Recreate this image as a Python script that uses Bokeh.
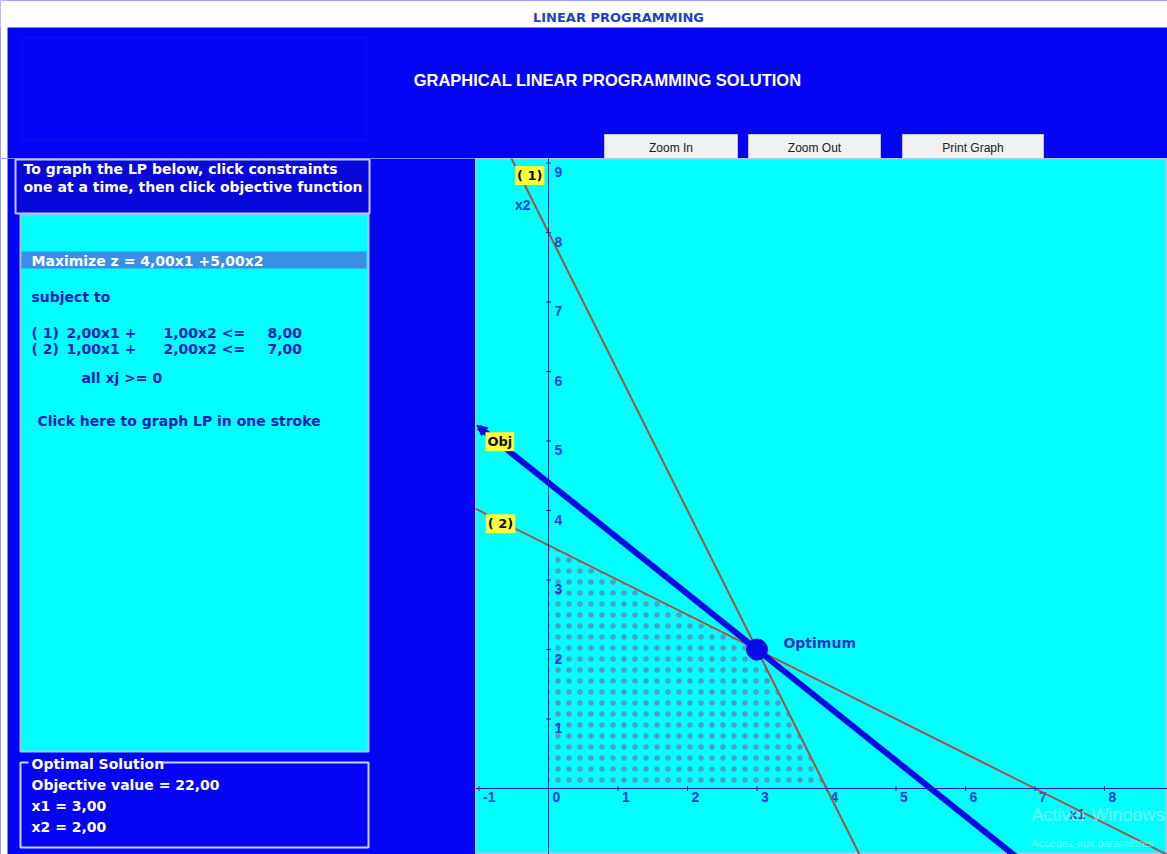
import numpy as np
from bokeh.plotting import figure
from bokeh.layouts import column, row
from bokeh.models import Range1d, Span, Label, Arrow, NormalHead
from bokeh.core.properties import value
from bokeh.embed import file_html
from bokeh.resources import INLINE

# ---------------- data ----------------
obj_coef = [4.0, 5.0]                 # maximize z = 4 x1 + 5 x2
con_a1 = [2.0, 1.0]                   # coefficient of x1 in each constraint
con_a2 = [1.0, 2.0]                   # coefficient of x2 in each constraint
con_rhs = [8.0, 7.0]                  # right-hand sides
con_names = ["( 1)", "( 2)"]
opt_x1 = [3.0]
opt_x2 = [2.0]
opt_value = 22.0
feas_x1 = [0.0, 4.0, 3.0, 0.0]        # feasible region corners
feas_x2 = [0.0, 0.0, 2.0, 3.5]
x_ticks = [-1, 0, 1, 2, 3, 4, 5, 6, 7, 8]
y_ticks = [1, 2, 3, 4, 5, 6, 7, 8, 9]

# ---------------- styles ----------------
FONT_NAME = "DejaVu Sans"
FONT = value(FONT_NAME)
FONT2 = value("Liberation Sans")
WIN_BLUE = "#0505f5"
CYAN = "#00ffff"
PANEL_TXT = "#1020b0"
TICK_TXT = "#1e3cd0"
BROWN = "#a8503c"
OBJ_BLUE = "#0a0ae6"


def fmt(v):
    return f"{v:.2f}".replace(".", ",")


def canvas(w, h, x0, x1, y0, y1, bg):
    p = figure(width=w, height=h, x_range=Range1d(x0, x1), y_range=Range1d(y0, y1),
               output_backend="svg", toolbar_location=None, min_border=0,
               x_axis_type=None, y_axis_type=None)
    p.grid.visible = False
    p.outline_line_color = None
    p.background_fill_color = bg
    p.border_fill_color = bg
    return p


def txt(p, x, y, s, color, size="14px", style="bold", align="left", font=FONT):
    p.text(x=[x], y=[y], text=[s], text_color=color, text_font=font,
           text_font_size=size, text_font_style=style, text_align=align,
           text_baseline="middle")


# ---------------- header (screen pixel frame) ----------------
hdr = canvas(1167, 158, 0, 1167, 158, 0, WIN_BLUE)
hdr.quad(left=[0], right=[1167], top=[0], bottom=[27], fill_color="white", line_color=None)
hdr.quad(left=[0], right=[7], top=[0], bottom=[158], fill_color="white", line_color=None)
txt(hdr, 618, 17, "LINEAR PROGRAMMING", "#1f3fc8", size="13px", align="center")
hdr.quad(left=[22], right=[366], top=[37], bottom=[140], fill_color=None,
         line_color="#1212e6", line_width=1)
txt(hdr, 607, 79, "GRAPHICAL LINEAR PROGRAMMING SOLUTION", "white", size="16.5px",
    align="center", font=FONT2)
btn_left = [604, 748, 902]
btn_right = [737, 880, 1043]
btn_text = ["Zoom In", "Zoom Out", "Print Graph"]
hdr.quad(left=btn_left, right=btn_right, top=[134] * 3, bottom=[158] * 3,
         fill_color="#f0f0f0", line_color="#c8c8c8", line_width=1)
for l, r, t in zip(btn_left, btn_right, btn_text):
    txt(hdr, (l + r) / 2, 147, t, "#202020", size="12px", style="normal", align="center",
        font=FONT2)

# ---------------- left panel ----------------
lp = canvas(475, 696, 0, 475, 854, 158, WIN_BLUE)
lp.quad(left=[0], right=[7], top=[158], bottom=[854], fill_color="white", line_color=None)
lp.quad(left=[15], right=[369], top=[159], bottom=[213], fill_color="#0808d8",
        line_color="#c8c8ff", line_width=2)
txt(lp, 23, 168, "To graph the LP below, click constraints", "white")
txt(lp, 23, 186, "one at a time, then click objective function", "white")
lp.quad(left=[20], right=[368], top=[214], bottom=[751], fill_color=CYAN,
        line_color="#9fc8ff", line_width=2)
lp.quad(left=[21], right=[366], top=[251], bottom=[268], fill_color="#3a8ee6", line_color=None)
txt(lp, 31, 260, f"Maximize z = {fmt(obj_coef[0])}x1 +{fmt(obj_coef[1])}x2", "white")
txt(lp, 31, 296, "subject to", PANEL_TXT)
for i, yy in enumerate([332, 348]):
    txt(lp, 31, yy, con_names[i], PANEL_TXT)
    txt(lp, 66, yy, f"{fmt(con_a1[i])}x1 +", PANEL_TXT)
    txt(lp, 163, yy, f"{fmt(con_a2[i])}x2 <=", PANEL_TXT)
    txt(lp, 267, yy, fmt(con_rhs[i]), PANEL_TXT)
txt(lp, 81, 377, "all xj >= 0", PANEL_TXT)
txt(lp, 37, 420, "Click here to graph LP in one stroke", PANEL_TXT)

lp.quad(left=[20], right=[368], top=[762], bottom=[847], fill_color=None,
        line_color="#d0d0ff", line_width=2)
lp.quad(left=[28], right=[158], top=[755], bottom=[770], fill_color=WIN_BLUE, line_color=None)
txt(lp, 31, 763, "Optimal Solution", "white")
txt(lp, 31, 784, f"Objective value = {fmt(opt_value)}", "white")
txt(lp, 31, 805, f"x1 = {fmt(opt_x1[0])}", "white")
txt(lp, 31, 826, f"x2 = {fmt(opt_x2[0])}", "white")

# ---------------- LP graph ----------------
X0, Y0, S = 548.0, 788.0, 69.5          # pixel position of origin, pixels per unit
gx = (np.array([475.0, 1167.0]) - X0) / S
gy = (Y0 - np.array([854.0, 158.0])) / S
g = canvas(692, 696, gx[0], gx[1], gy[0], gy[1], CYAN)
g.outline_line_color = "#b0c8f0"
g.outline_line_width = 2

# feasible region (dotted)
g.patch(feas_x1, feas_x2, fill_alpha=0, line_alpha=0, hatch_pattern="dot",
        hatch_color="#5a90bc", hatch_scale=11, hatch_weight=0.6, hatch_alpha=0.85)

# axes
g.add_layout(Span(location=0, dimension="height", line_color="#2020a8", line_width=1))
g.add_layout(Span(location=0, dimension="width", line_color="#2020a8", line_width=1))
g.scatter(x=x_ticks, y=[0] * len(x_ticks), marker="dash", angle=np.pi / 2, size=5,
          line_color="#2020a8")
g.scatter(x=[0] * len(y_ticks), y=y_ticks, marker="dash", size=5, line_color="#2020a8")
g.text(x=x_ticks, y=[0] * len(x_ticks), text=[str(t) for t in x_ticks], x_offset=4,
       y_offset=3, text_baseline="top", text_align="left", text_color=TICK_TXT,
       text_font=FONT2, text_font_size="14px", text_font_style="bold")
g.text(x=[0] * len(y_ticks), y=y_ticks, text=[str(t) for t in y_ticks], x_offset=6,
       y_offset=9, text_baseline="middle", text_align="left", text_color=TICK_TXT,
       text_font=FONT2, text_font_size="14px", text_font_style="bold")
g.text(x=[7.61], y=[-0.37], text=["x1"], text_color=TICK_TXT, text_font=FONT2,
       text_font_size="14px", text_font_style="bold", text_align="center",
       text_baseline="middle")
g.text(x=[-0.37], y=[8.39], text=["x2"], text_color=TICK_TXT, text_font=FONT2,
       text_font_size="14px", text_font_style="bold", text_align="center",
       text_baseline="middle")

# constraint lines
xs = np.array([-2.0, 10.0])
for a1, a2, b in zip(con_a1, con_a2, con_rhs):
    g.line(xs, (b - a1 * xs) / a2, line_color=BROWN, line_width=2)

# objective line with arrow at the left end
ox = np.array([-1.0, 10.0])
oy = (opt_value - obj_coef[0] * ox) / obj_coef[1]
g.line(ox, oy, line_color=OBJ_BLUE, line_width=6)
ax_s, ax_e = -0.85, -1.03
g.add_layout(Arrow(end=NormalHead(size=10, fill_color=OBJ_BLUE, line_color=OBJ_BLUE),
                   x_start=ax_s, y_start=(opt_value - obj_coef[0] * ax_s) / obj_coef[1],
                   x_end=ax_e, y_end=(opt_value - obj_coef[0] * ax_e) / obj_coef[1],
                   line_color=OBJ_BLUE, line_width=5))

# optimum
g.scatter(opt_x1, opt_x2, size=21, fill_color=OBJ_BLUE, line_color=OBJ_BLUE)
g.text(x=[3.38], y=[2.10], text=["Optimum"], text_color="#1a32c0", text_font=FONT,
       text_font_size="14px", text_font_style="bold", text_align="left",
       text_baseline="middle")

# yellow tags
for lx, ly, s in [(-0.27, 8.82, con_names[0]), (-0.69, 3.81, con_names[1]), (-0.70, 4.99, "Obj")]:
    g.add_layout(Label(x=lx, y=ly, text=s, text_align="center", text_baseline="middle",
                       text_font=FONT_NAME, text_font_size="13px", text_font_style="bold",
                       text_color="#101010", background_fill_color="#ffff3c",
                       padding=2))

# windows watermark
g.text(x=[6.95], y=[-0.38], text=["Activer Windows"], text_color="#ffffff", text_alpha=0.45,
       text_font=FONT2, text_font_size="18px", text_align="left", text_baseline="middle")
g.text(x=[6.95], y=[-0.78], text=["Accédez aux paramètres"],
       text_color="#ffffff", text_alpha=0.45, text_font=FONT2, text_font_size="11px",
       text_align="left", text_baseline="middle")

layout = column(hdr, row(lp, g, spacing=0), spacing=0)
open("out.html", "w").write(file_html(layout, INLINE))
